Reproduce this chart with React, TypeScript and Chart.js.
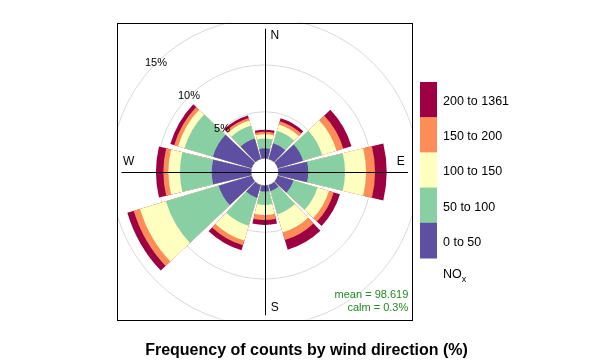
import React, { useEffect, useRef } from "react";
import { Chart, registerables } from "chart.js";

Chart.register(...registerables);

// Wind direction sectors (degrees, clockwise from North)
const directions = [0, 30, 60, 90, 120, 150, 180, 210, 240, 270, 300, 330];

// Pollutant bins (NOx) and their colours
const binLabels = ["0 to 50", "50 to 100", "100 to 150", "150 to 200", "200 to 1361"];
const binColors = ["#5E4FA2", "#88CFA4", "#FFFFBF", "#FC8D59", "#9E0142"];

// Frequency (% of counts) per direction for each NOx bin
const bin0to50 = [1.08, 1.75, 2.82, 3.2, 1.75, 0.68, 0.63, 1.43, 3.68, 4.21, 4.32, 2.29];
const bin50to100 = [1.05, 1.39, 2.14, 3.94, 2.68, 2.57, 1.44, 3.11, 5.89, 3.4, 3.18, 1.45];
const bin100to150 = [0.45, 0.7, 1.61, 2.25, 1.28, 2.04, 1.07, 1.66, 2.89, 1.24, 0.72, 0.54];
const bin150to200 = [0.26, 0.37, 0.75, 0.96, 0.54, 0.85, 0.54, 0.53, 0.71, 0.54, 0.43, 0.29];
const bin200to1361 = [0.23, 0.33, 0.91, 1.25, 0.69, 1.07, 0.53, 0.54, 0.71, 0.79, 0.43, 0.29];

const gridPercents = [0, 5, 10, 15];
const gridLabelPercents = [5, 10, 15];
const compassLabels = ["N", "E", "S", "W"];
const meanText = "mean = 98.619";
const calmText = "calm = 0.3%";
const titleText = "Frequency of counts by wind direction (%)";

const OFFSET = 1.46; // centre offset in % units
const HALF_WIDTH = 13.5; // wedge half angle (deg)
const PANEL = 15.8;

const FONT = "'Liberation Sans', Arial, Helvetica, sans-serif";

const rosePlugin = {
  id: "rosePlugin",
  afterDatasetsDraw(chart: any) {
    const ctx: CanvasRenderingContext2D = chart.ctx;
    const xs = chart.scales.x;
    const ys = chart.scales.y;
    const cx = xs.getPixelForValue(0);
    const cy = ys.getPixelForValue(0);
    const rad = (v: number) => xs.getPixelForValue(v) - cx;
    const datasets = chart.data.datasets;
    const n = directions.length;

    const totals = directions.map((_, i) =>
      datasets.reduce((s: number, d: any) => s + d.data[i].y, 0)
    );
    const axisLen = Math.max(...totals) + OFFSET;

    const left = xs.getPixelForValue(-PANEL);
    const right = xs.getPixelForValue(PANEL);
    const top = ys.getPixelForValue(PANEL + 0.2);
    const bottom = ys.getPixelForValue(-PANEL);

    ctx.save();
    ctx.beginPath();
    ctx.rect(left, top, right - left, bottom - top);
    ctx.clip();

    // grid circles
    ctx.strokeStyle = "#D9D9D9";
    ctx.lineWidth = 1;
    gridPercents.forEach((p) => {
      ctx.beginPath();
      ctx.arc(cx, cy, rad(p + OFFSET), 0, Math.PI * 2);
      ctx.stroke();
    });

    // wedges
    const toA = (deg: number) => ((deg - 90) * Math.PI) / 180;
    for (let i = 0; i < n; i++) {
      const cum: number[] = [];
      let s = 0;
      datasets.forEach((d: any) => {
        s += d.data[i].y;
        cum.push(s);
      });
      const a0 = toA(directions[i] - HALF_WIDTH);
      const a1 = toA(directions[i] + HALF_WIDTH);
      const rIn = rad(OFFSET);
      for (let b = datasets.length - 1; b >= 0; b--) {
        const rOut = rad(cum[b] + OFFSET);
        ctx.beginPath();
        ctx.arc(cx, cy, rOut, a0, a1);
        ctx.arc(cx, cy, rIn, a1, a0, true);
        ctx.closePath();
        ctx.fillStyle = datasets[b].backgroundColor;
        ctx.fill();
      }
    }

    // axes
    ctx.strokeStyle = "#000";
    ctx.lineWidth = 1;
    const vx = Math.round(cx) + 0.5;
    const hy = Math.round(cy) + 0.5;
    ctx.beginPath();
    ctx.moveTo(vx, ys.getPixelForValue(axisLen));
    ctx.lineTo(vx, ys.getPixelForValue(-axisLen));
    ctx.moveTo(xs.getPixelForValue(-axisLen), hy);
    ctx.lineTo(xs.getPixelForValue(axisLen), hy);
    ctx.stroke();

    // compass labels
    ctx.fillStyle = "#000";
    ctx.font = `12px ${FONT}`;
    ctx.textAlign = "center";
    ctx.textBaseline = "middle";
    const lp = [
      [0.07, 0.95],
      [0.95, 0.07],
      [0.07, -0.95],
      [-0.95, 0.07],
    ];
    compassLabels.forEach((t, i) => {
      ctx.fillText(t, xs.getPixelForValue(lp[i][0] * axisLen), ys.getPixelForValue(lp[i][1] * axisLen));
    });

    // percentage labels along 315 deg
    ctx.font = `11px ${FONT}`;
    gridLabelPercents.forEach((p) => {
      const r = p + OFFSET;
      const a = (315 * Math.PI) / 180;
      ctx.fillText(p + "%", xs.getPixelForValue(r * Math.sin(a)), ys.getPixelForValue(r * Math.cos(a)));
    });

    // stats
    ctx.fillStyle = "#228B22";
    ctx.font = `11px ${FONT}`;
    ctx.textAlign = "right";
    ctx.fillText(meanText, right - 4, ys.getPixelForValue(-13.2));
    ctx.fillText(calmText, right - 4, ys.getPixelForValue(-14.56));
    ctx.restore();

    // panel border
    ctx.save();
    ctx.strokeStyle = "#000";
    ctx.lineWidth = 1;
    ctx.strokeRect(Math.round(left) + 0.5, Math.round(top) + 0.5, Math.round(right - left), Math.round(bottom - top));
    ctx.restore();

    // legend
    ctx.save();
    const lx = 420;
    const ly0 = 82;
    const lh = 35.2;
    const nb = datasets.length;
    for (let j = 0; j < nb; j++) {
      const b = nb - 1 - j;
      ctx.fillStyle = datasets[b].backgroundColor;
      ctx.fillRect(lx, ly0 + j * lh, 17, lh + 0.5);
      ctx.fillStyle = "#000";
      ctx.font = `12.5px ${FONT}`;
      ctx.textAlign = "left";
      ctx.textBaseline = "middle";
      ctx.fillText(datasets[b].label, lx + 23, ly0 + j * lh + lh / 2 + 2);
    }
    ctx.font = `12.5px ${FONT}`;
    ctx.fillText("NO", lx + 23, 275);
    const w = ctx.measureText("NO").width;
    ctx.font = `9px ${FONT}`;
    ctx.fillText("x", lx + 23 + w, 280);
    ctx.restore();
  },
};

export default function App() {
  const ref = useRef<HTMLCanvasElement | null>(null);
  useEffect(() => {
    if (!ref.current) return;
    const bins = [bin0to50, bin50to100, bin100to150, bin150to200, bin200to1361];
    const chart = new Chart(ref.current, {
      type: "scatter",
      data: {
        datasets: bins.map((vals, b) => ({
          label: binLabels[b],
          backgroundColor: binColors[b],
          borderColor: binColors[b],
          pointRadius: 0,
          pointHoverRadius: 0,
          data: vals.map((v, i) => ({ x: directions[i], y: v })),
        })),
      },
      options: {
        responsive: false,
        animation: false,
        events: [],
        layout: { padding: { top: 22, left: 0, right: 0, bottom: 0 } },
        scales: {
          x: { type: "linear", display: false, min: -264.7 / 9.34, max: (613 - 264.7) / 9.34 },
          y: { type: "linear", display: false, min: -(319 - 172) / 9.34, max: (172 - 22) / 9.34 },
        },
        plugins: {
          legend: { display: false },
          tooltip: { enabled: false },
          title: {
            display: true,
            text: titleText,
            position: "bottom",
            color: "#000",
            font: { family: FONT, size: 16, weight: "bold", lineHeight: 1.2 },
            padding: { top: 22, bottom: 3.8 },
          },
        },
      },
      plugins: [rosePlugin],
    });
    return () => chart.destroy();
  }, []);
  return (
    <div style={{ position: "absolute", left: 0, top: 0, width: 613, height: 364, background: "#fff" }}>
      <canvas ref={ref} width={613} height={364} style={{ display: "block" }} />
    </div>
  );
}
